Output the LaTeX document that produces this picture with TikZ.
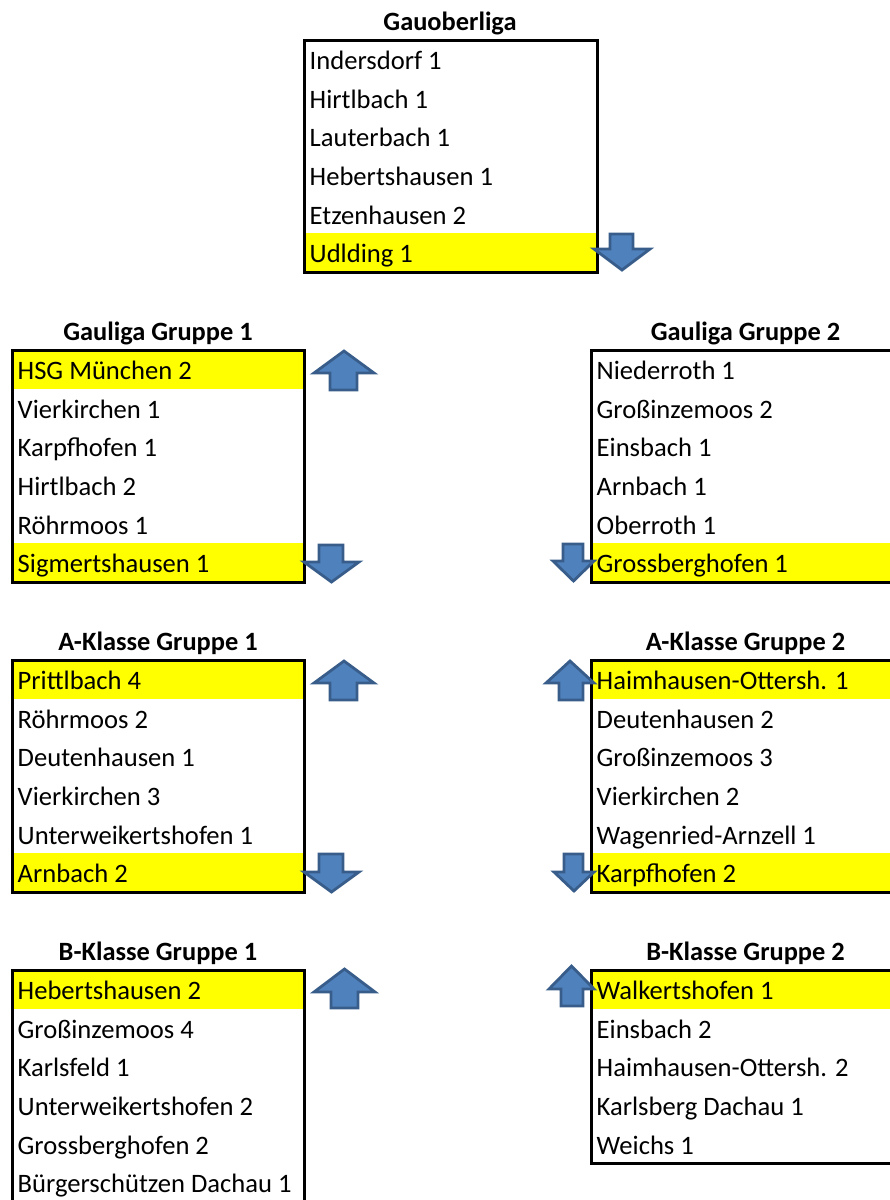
\documentclass[tikz,border=0pt]{standalone}
\usepackage{fontspec}
\setmainfont{Carlito}
\definecolor{arrfill}{HTML}{4F81BD}
\definecolor{arrline}{HTML}{385D8A}
\definecolor{hlyellow}{HTML}{FFFF00}
\tikzset{
  team/.style={anchor=base west, font=\fontsize{26.6}{26.6}\selectfont, inner sep=0pt},
  ttl/.style={anchor=base, font=\bfseries\fontsize{26.4}{26.4}\selectfont, inner sep=0pt},
  frame/.style={draw=black, line width=3pt},
  hl/.style={fill=hlyellow},
  arrowst/.style={fill=arrfill, draw=arrline, line width=2.8pt, line join=miter}
}
% up arrow: left right shaftL shaftR tip headbase bottom
\newcommand\arrU[7]{\draw[arrowst] (#3,#7) -- (#3,#6) -- (#1,#6) -- ({(#1+#2)/2},#5) -- (#2,#6) -- (#4,#6) -- (#4,#7) -- cycle;}
% down arrow: left right shaftL shaftR top headbase tip
\newcommand\arrD[7]{\draw[arrowst] (#3,#5) -- (#3,#6) -- (#1,#6) -- ({(#1+#2)/2},#7) -- (#2,#6) -- (#4,#6) -- (#4,#5) -- cycle;}
\begin{document}
\begin{tikzpicture}[x=1pt,y=-1pt]
\useasboundingbox (0,0) rectangle (890,1200);
\clip (0,0) rectangle (890,1200);
\def\rh{38.67}
% ---------- Gauoberliga ----------
\fill[hl] (304,{40+5*\rh}) rectangle (597,{40+6*\rh});
\draw[frame] (304,40) rectangle (597,{40+6*\rh});
\node[ttl] (t0) at (450,30) {Gauoberliga};
\foreach \n [count=\i from 0] in {Indersdorf 1,Hirtlbach 1,Lauterbach 1,Hebertshausen 1,Etzenhausen 2,Udlding 1}
  \node[team] (a\i) at (309.5,{40+29.5+\i*\rh}) {\n};
% ---------- Gauliga Gruppe 1 ----------
\fill[hl] (12,350) rectangle (304,{350+\rh});
\fill[hl] (12,{350+5*\rh}) rectangle (304,{350+6*\rh});
\draw[frame] (12,350) rectangle (304,{350+6*\rh});
\node[ttl] (t1) at (158,340) {Gauliga Gruppe 1};
\foreach \n [count=\i from 0] in {HSG München 2,Vierkirchen 1,Karpfhofen 1,Hirtlbach 2,Röhrmoos 1,Sigmertshausen 1}
  \node[team] (b\i) at (17.5,{350+29.5+\i*\rh}) {\n};
% ---------- Gauliga Gruppe 2 ----------
\fill[hl] (591,{350+5*\rh}) rectangle (900,{350+6*\rh});
\draw[frame] (591,350) rectangle (900,{350+6*\rh});
\node[ttl] (t2) at (745.5,340) {Gauliga Gruppe 2};
\foreach \n [count=\i from 0] in {Niederroth 1,Großinzemoos 2,Einsbach 1,Arnbach 1,Oberroth 1,Grossberghofen 1}
  \node[team] (c\i) at (596.5,{350+29.5+\i*\rh}) {\n};
% ---------- A-Klasse Gruppe 1 ----------
\fill[hl] (12,660) rectangle (304,{660+\rh});
\fill[hl] (12,{660+5*\rh}) rectangle (304,{660+6*\rh});
\draw[frame] (12,660) rectangle (304,{660+6*\rh});
\node[ttl] (t3) at (158,650) {A-Klasse Gruppe 1};
\foreach \n [count=\i from 0] in {Prittlbach 4,Röhrmoos 2,Deutenhausen 1,Vierkirchen 3,Unterweikertshofen 1,Arnbach 2}
  \node[team] (d\i) at (17.5,{660+29.5+\i*\rh}) {\n};
% ---------- A-Klasse Gruppe 2 ----------
\fill[hl] (591,660) rectangle (900,{660+\rh});
\fill[hl] (591,{660+5*\rh}) rectangle (900,{660+6*\rh});
\draw[frame] (591,660) rectangle (900,{660+6*\rh});
\node[ttl] (t4) at (745.5,650) {A-Klasse Gruppe 2};
\foreach \n [count=\i from 0] in {Haimhausen-Ottersh. 1,Deutenhausen 2,Großinzemoos 3,Vierkirchen 2,Wagenried-Arnzell 1,Karpfhofen 2}
  \node[team] (e\i) at (596.5,{660+29.5+\i*\rh}) {\n};
% ---------- B-Klasse Gruppe 1 ----------
\fill[hl] (12,970) rectangle (304,{970+\rh});
\draw[frame] (12,970) rectangle (304,{970+6*\rh+4});
\node[ttl] (t5) at (158,960) {B-Klasse Gruppe 1};
\foreach \n [count=\i from 0] in {Hebertshausen 2,Großinzemoos 4,Karlsfeld 1,Unterweikertshofen 2,Grossberghofen 2,Bürgerschützen Dachau 1}
  \node[team] (f\i) at (17.5,{970+29.5+\i*\rh}) {\n};
% ---------- B-Klasse Gruppe 2 ----------
\fill[hl] (591,970) rectangle (900,{970+\rh});
\draw[frame] (591,970) rectangle (900,{970+5*\rh});
\node[ttl] (t6) at (745.5,960) {B-Klasse Gruppe 2};
\foreach \n [count=\i from 0] in {Walkertshofen 1,Einsbach 2,Haimhausen-Ottersh. 2,Karlsberg Dachau 1,Weichs 1}
  \node[team] (g\i) at (596.5,{970+29.5+\i*\rh}) {\n};
% ---------- arrows ----------
\arrD{594}{650}{610}{633}{234}{249}{270}
\arrU{314}{374}{330}{357}{351}{373}{390}
\arrD{304}{359}{319}{343}{545}{562}{582}
\arrD{553}{594}{563}{583}{544}{561}{581}
\arrU{314}{374}{330}{357}{661}{683}{700}
\arrU{546}{594}{559}{583}{661}{683}{700}
\arrD{304}{359}{319}{343}{854}{872}{892}
\arrD{554}{594}{564}{583}{854}{872}{891}
\arrU{314}{375}{331}{358}{969}{992}{1008}
\arrU{549}{594}{561}{583}{966}{989}{1006}
\end{tikzpicture}
\end{document}
